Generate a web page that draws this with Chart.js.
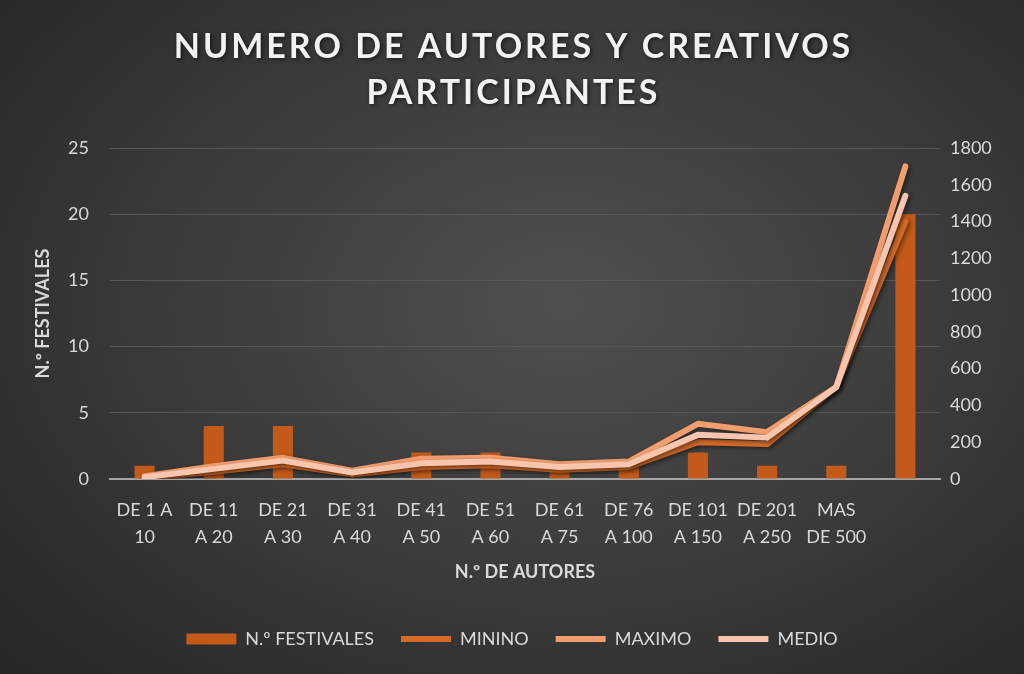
<!DOCTYPE html>
<html>
<head>
<meta charset="utf-8">
<script src="https://cdn.jsdelivr.net/npm/chart.js@4.4.1/dist/chart.umd.min.js"></script>
<style>
  html, body { margin: 0; padding: 0; }
  body { width: 1024px; height: 674px; overflow: hidden;
    background: radial-gradient(ellipse 75% 80% at 55% 45%, #4f4f4f 0%, #3d3d3d 45%, #262626 100%); }
  #wrap { position: relative; width: 1024px; height: 674px; }
</style>
</head>
<body>
<div id="wrap"><canvas id="c"></canvas></div>
<script>
const titleLines = ["NUMERO DE AUTORES Y CREATIVOS", "PARTICIPANTES"];
const categories = [["DE 1 A","10"],["DE 11","A 20"],["DE 21","A 30"],["DE 31","A 40"],["DE 41","A 50"],["DE 51","A 60"],["DE 61","A 75"],["DE 76","A 100"],["DE 101","A 150"],["DE 201","A 250"],["MAS","DE 500"],""];
const festivales = [1, 4, 4, 0, 2, 2, 1, 1, 2, 1, 1, 20];
const minino = [5, 40, 80, 25, 65, 75, 50, 65, 200, 190, 500, 1400];
const maximo = [15, 70, 115, 45, 110, 115, 80, 95, 300, 255, 500, 1700];
const medio  = [10, 55, 100, 35, 85, 95, 65, 80, 240, 225, 500, 1540];
const leftTicks = [0, 5, 10, 15, 20, 25];
const rightTicks = [0, 200, 400, 600, 800, 1000, 1200, 1400, 1600, 1800];

const FONT = 'Lato, "Open Sans", sans-serif';
const TXT = '#d9d9d9';

const titlePlugin = {
  id: 'bigTitle',
  afterDraw(chart) {
    const ctx = chart.ctx;
    ctx.save();
    ctx.font = 'bold 34px ' + FONT;
    ctx.letterSpacing = '3px';
    ctx.fillStyle = '#f2f2f2';
    ctx.textAlign = 'center';
    ctx.textBaseline = 'middle';
    ctx.shadowColor = 'rgba(0,0,0,0.6)';
    ctx.shadowBlur = 4;
    ctx.shadowOffsetX = 1.5;
    ctx.shadowOffsetY = 1.5;
    ctx.fillText(titleLines[0], 512 + 1.5, 47);
    ctx.fillText(titleLines[1], 512 + 1.5, 93);
    ctx.restore();
  }
};

const shadowPlugin = {
  id: 'lineShadow',
  beforeDatasetDraw(chart, args) {
    if (args.meta.type === 'line') {
      const ctx = chart.ctx;
      ctx.save();
      ctx.shadowColor = 'rgba(0,0,0,0.45)';
      ctx.shadowBlur = 4;
      ctx.shadowOffsetX = 2;
      ctx.shadowOffsetY = 2;
    }
  },
  afterDatasetDraw(chart, args) {
    if (args.meta.type === 'line') chart.ctx.restore();
  }
};

const lineDs = (label, data, color, order) => ({
  type: 'line', label, data, yAxisID: 'y1', order,
  borderColor: color, backgroundColor: color, borderWidth: 6,
  borderCapStyle: 'round', borderJoinStyle: 'round',
  pointRadius: 0, pointHoverRadius: 0, tension: 0, pointStyle: 'line', fill: false
});

new Chart(document.getElementById('c'), {
  data: {
    labels: categories,
    datasets: [
      { type: 'bar', label: 'N.º FESTIVALES', data: festivales, yAxisID: 'y', order: 4,
        backgroundColor: '#c35a19', borderWidth: 0, pointStyle: 'rect',
        categoryPercentage: 1, barPercentage: 0.29 },
      lineDs('MININO', minino, '#d46b2b', 3),
      lineDs('MAXIMO', maximo, '#f19d6e', 2),
      lineDs('MEDIO', medio, '#f8c6ae', 1)
    ]
  },
  options: {
    responsive: true, maintainAspectRatio: false, animation: false,
    layout: { padding: { top: 148, bottom: 16, left: 0, right: 0 } },
    plugins: {
      title: { display: false },
      tooltip: { enabled: false },
      legend: {
        position: 'bottom',
        labels: {
          usePointStyle: true, pointStyleWidth: 50, boxHeight: 11,
          padding: 27, color: TXT, font: { family: FONT, size: 18 },
          sort: (a, b) => a.datasetIndex - b.datasetIndex
        }
      }
    },
    scales: {
      x: {
        grid: { display: false, drawTicks: false },
        border: { display: true, color: '#a6a6a6', width: 2 },
        ticks: { color: TXT, font: { family: FONT, size: 18, lineHeight: 1.5 }, padding: 18, maxRotation: 0, autoSkip: false },
        title: { display: true, text: 'N.º DE AUTORES', color: TXT, font: { family: FONT, size: 18, weight: 'bold' }, padding: { top: 0, bottom: 20 } },
        afterFit(s) { s.height = 124; }
      },
      y: {
        position: 'left', min: 0, max: 25,
        afterBuildTicks(s) { s.ticks = leftTicks.map(v => ({ value: v })); },
        grid: { color: '#575757', lineWidth: 1, drawTicks: false },
        border: { display: false },
        ticks: { color: TXT, font: { family: FONT, size: 18 }, padding: 21 },
        title: { display: true, text: 'N.º FESTIVALES', color: TXT, font: { family: FONT, size: 18, weight: 'bold' }, padding: { top: 32, bottom: 0 } },
        afterFit(s) { s.width = 110; }
      },
      y1: {
        position: 'right', min: 0, max: 1800,
        afterBuildTicks(s) { s.ticks = rightTicks.map(v => ({ value: v })); },
        grid: { display: false, drawTicks: false },
        border: { display: false },
        ticks: { color: TXT, font: { family: FONT, size: 18 }, padding: 10, callback: v => String(v) },
        afterFit(s) { s.width = 84; }
      }
    }
  },
  plugins: [shadowPlugin, titlePlugin]
});
</script>
</body>
</html>
